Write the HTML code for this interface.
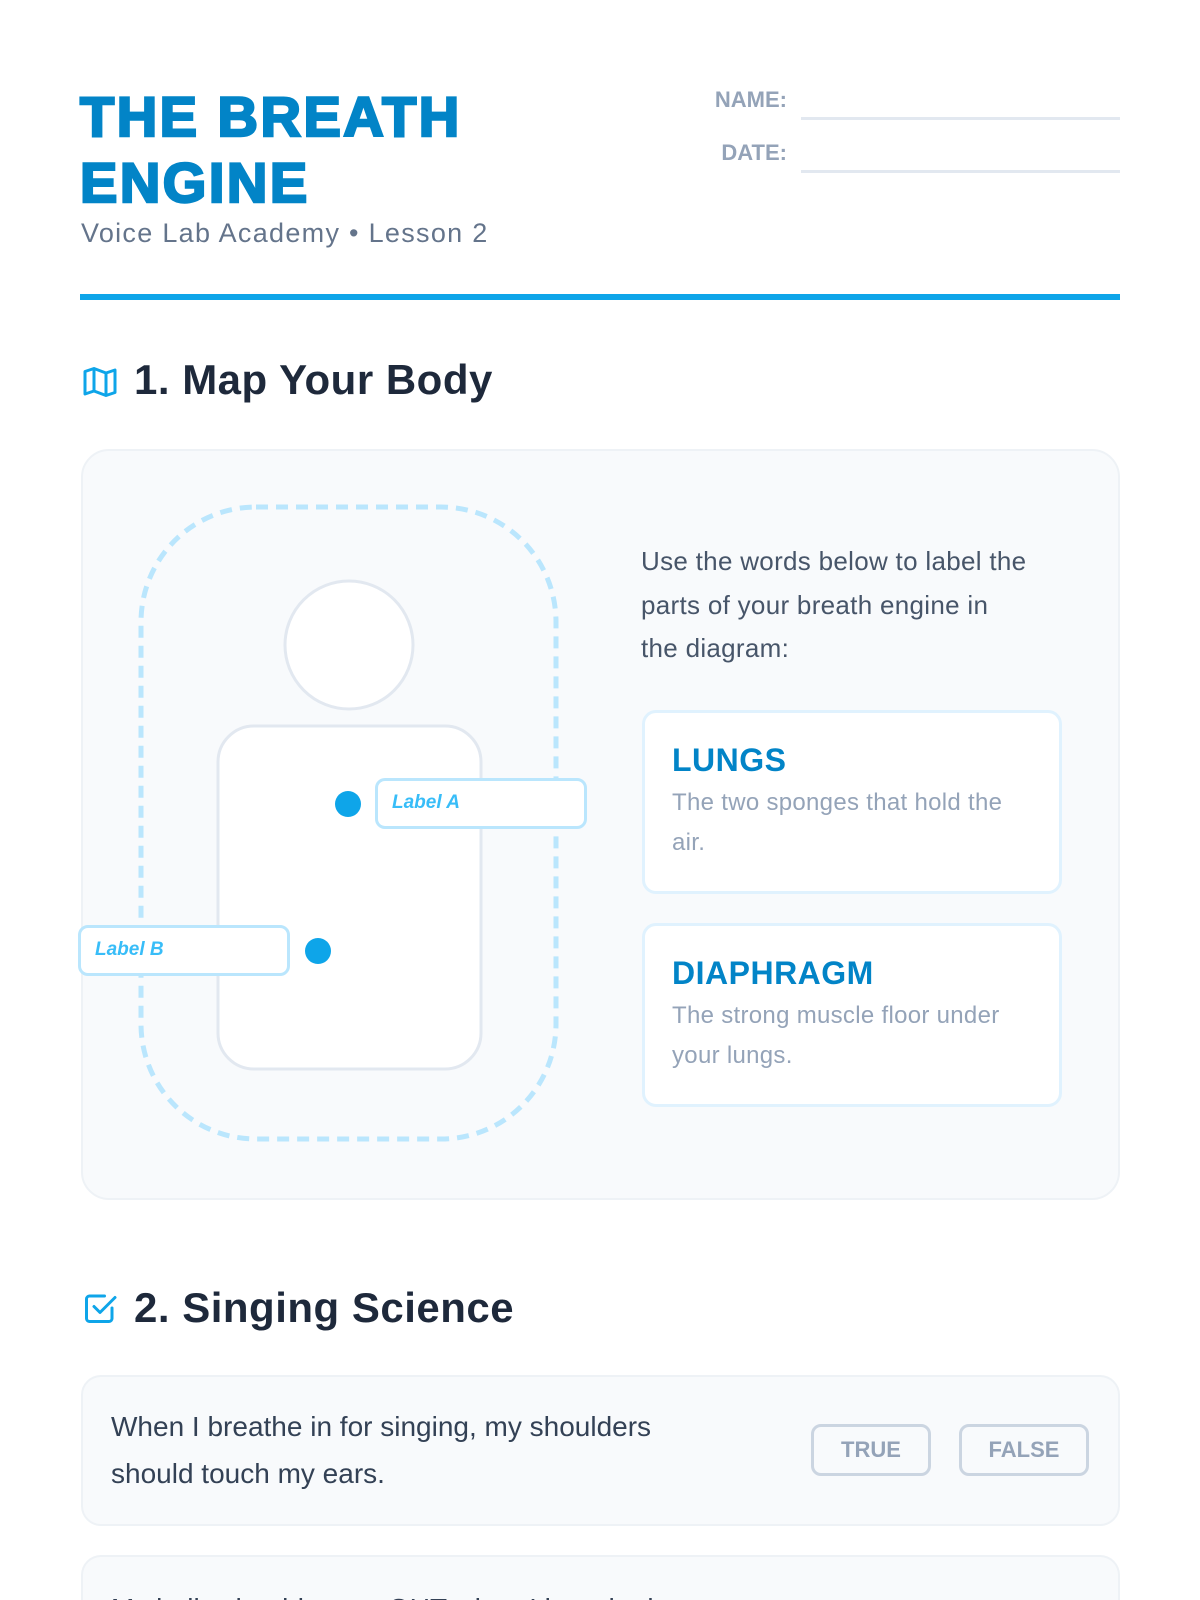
<!DOCTYPE html>
<html><head><style>
*{margin:0;padding:0;box-sizing:border-box}
html,body{width:1200px;height:1600px;overflow:hidden}
body{background:#fff;font-family:"Liberation Sans",sans-serif;position:relative}
.a{position:absolute}
.title{left:80px;top:84px;font-size:56px;font-weight:900;color:#0284c7;line-height:66px;letter-spacing:2.5px;-webkit-text-stroke:2.5px #0284c7}
.sub{left:81px;top:218px;font-size:27px;color:#64748b;letter-spacing:1.3px}
.lbl{font-size:22px;font-weight:bold;color:#94a3b8;text-align:right;width:120px;left:667px}
.line{height:3px;background:#e2e8f0;left:801px;width:319px}
.h2{font-size:42px;font-weight:bold;color:#1e293b;left:134px;letter-spacing:0.5px}
.card{border-radius:28px;background:#f8fafc;border:2px solid #eef2f6}
.lab{background:#fff;border:3px solid #bae6fd;border-radius:10px;font-size:19px;font-style:italic;font-weight:bold;color:#38bdf8;padding-left:14px;line-height:44px}
.dot{width:26px;height:26px;border-radius:50%;background:#0ea5e9}
.wc{background:#fff;border:3px solid #e0f2fe;border-radius:14px;left:642px;width:420px;height:184px;padding:26px 0 0 27px}
.wc b{display:block;font-size:32px;font-weight:900;color:#0284c7;line-height:42px;letter-spacing:0.5px}
.wc p{font-size:24px;color:#94a3b8;line-height:40px;margin-top:2px;letter-spacing:0.3px;width:360px}
.btn{border:3px solid #cbd5e1;border-radius:10px;font-size:22px;font-weight:bold;color:#94a3b8;text-align:center;line-height:46px}
</style></head><body>
<div class="a title">THE BREATH<br>ENGINE</div>
<div class="a sub">Voice Lab Academy • Lesson 2</div>
<div class="a lbl" style="top:87px">NAME:</div>
<div class="a line" style="top:117px"></div>
<div class="a lbl" style="top:140px">DATE:</div>
<div class="a line" style="top:170px"></div>
<div class="a" style="left:80px;top:294px;width:1040px;height:6px;background:#0ea5e9"></div>

<svg class="a" style="left:82px;top:364px" width="36" height="36" viewBox="0 0 24 24" fill="none" stroke="#0ea5e9" stroke-width="2" stroke-linejoin="round"><path d="M2 5l6-2 8 3 6-2v15l-6 2-8-3-6 2z"/><path d="M8 3v15M16 6v15"/></svg>
<div class="a h2" style="top:356px">1. Map Your Body</div>

<div class="a card" style="left:81px;top:449px;width:1039px;height:751px"></div>
<svg class="a" style="left:0;top:0" width="1200" height="1200">
<rect x="141" y="507" width="415" height="632" rx="115" fill="none" stroke="#bae6fd" stroke-width="5" stroke-dasharray="12 8"/>
<circle cx="349" cy="645" r="64" fill="#fff" stroke="#e2e8f0" stroke-width="3"/>
<rect x="218" y="726" width="263" height="343" rx="36" fill="#fff" stroke="#e2e8f0" stroke-width="3"/>
</svg>
<div class="a dot" style="left:335px;top:791px"></div>
<div class="a lab" style="left:375px;top:778px;width:212px;height:51px">Label A</div>
<div class="a lab" style="left:78px;top:925px;width:212px;height:51px">Label B</div>
<div class="a dot" style="left:305px;top:938px"></div>

<div class="a" style="left:641px;top:540px;width:440px;font-size:26px;line-height:43.5px;color:#475569;letter-spacing:0.3px;white-space:nowrap">Use the words below to label the<br>parts of your breath engine in<br>the diagram:</div>
<div class="a wc" style="top:710px"><b>LUNGS</b><p>The two sponges that hold the air.</p></div>
<div class="a wc" style="top:923px"><b>DIAPHRAGM</b><p>The strong muscle floor under your lungs.</p></div>

<svg class="a" style="left:82px;top:1290px" width="36" height="36" viewBox="0 0 24 24" fill="none" stroke="#0ea5e9" stroke-width="2" stroke-linecap="round" stroke-linejoin="round"><path d="M20 12v7a2 2 0 0 1-2 2H5a2 2 0 0 1-2-2V6a2 2 0 0 1 2-2h10"/><path d="M8 11l4 4 10-10"/></svg>
<div class="a h2" style="top:1284px">2. Singing Science</div>

<div class="a card" style="left:81px;top:1375px;width:1039px;height:151px;border-radius:20px"></div>
<div class="a" style="left:111px;top:1403px;width:630px;font-size:28px;line-height:47px;color:#334155">When I breathe in for singing, my shoulders should touch my ears.</div>
<div class="a btn" style="left:811px;top:1424px;width:120px;height:52px">TRUE</div>
<div class="a btn" style="left:959px;top:1424px;width:130px;height:52px">FALSE</div>

<div class="a card" style="left:81px;top:1555px;width:1039px;height:45px;border-radius:20px 20px 0 0;border-bottom:none;overflow:hidden"><div style="position:absolute;left:28px;top:28px;width:900px;font-size:28px;line-height:47px;color:#334155;white-space:nowrap">My belly should move OUT when I breathe in.</div></div>
</body></html>
